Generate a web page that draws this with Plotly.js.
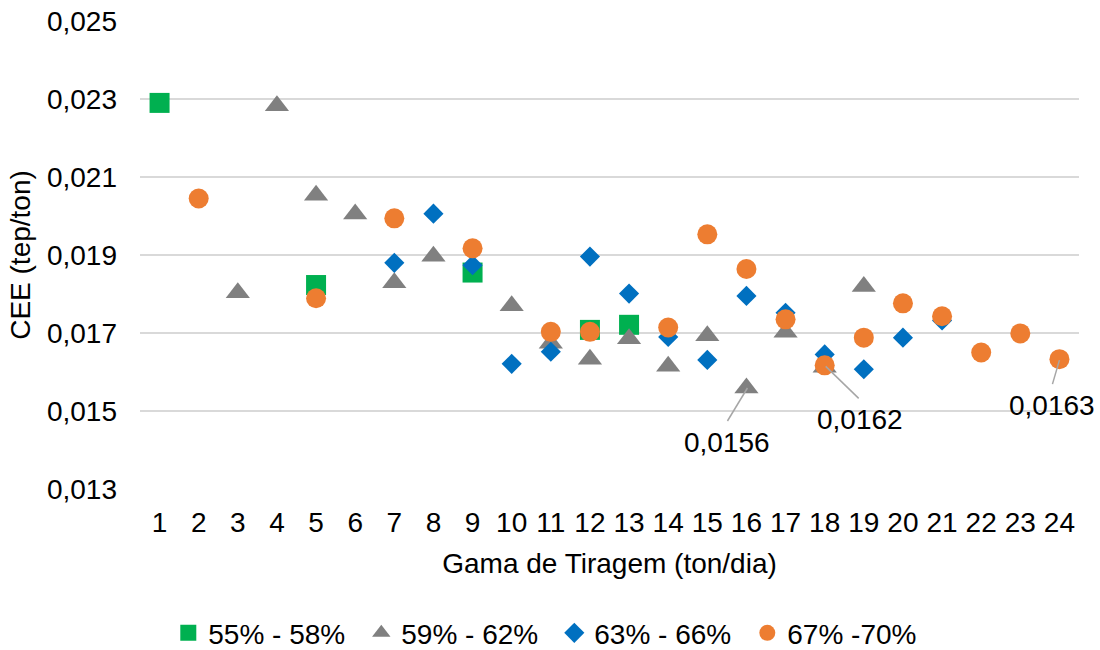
<!DOCTYPE html>
<html>
<head>
<meta charset="utf-8">
<script src="https://cdn.plot.ly/plotly-3.0.1.min.js"></script>
<style>html,body{margin:0;padding:0;background:#fff;}#chart{width:1100px;height:650px;}</style>
</head>
<body>
<div id="chart"></div>
<script>
// ---- data ----
var categories = [1,2,3,4,5,6,7,8,9,10,11,12,13,14,15,16,17,18,19,20,21,22,23,24];
var tickLabels = ["1","2","3","4","5","6","7","8","9","10","11","12","13","14","15","16","17","18","19","20","21","22","23","24"];
var yTicks = [0.013, 0.015, 0.017, 0.019, 0.021, 0.023, 0.025];

var names = ["55% - 58%", "59% - 62%", "63% - 66%", "67% -70%"];

var s1x = [1, 5, 9, 12, 13];
var s1y = [0.0229, 0.01823, 0.01855, 0.01708, 0.01721];

var s2x = [3, 4, 5, 6, 7, 8, 10, 11, 12, 13, 14, 15, 16, 17, 18, 19];
var s2y = [0.01803, 0.02283, 0.02053, 0.02005, 0.01829, 0.01897, 0.0177, 0.01674, 0.01633, 0.01685, 0.01615, 0.01693, 0.01559, 0.01702, 0.01612, 0.01819];

var s3x = [7, 8, 9, 10, 11, 12, 13, 14, 15, 16, 17, 18, 19, 20, 21];
var s3y = [0.0188, 0.02006, 0.01874, 0.01621, 0.01652, 0.01896, 0.01801, 0.0169, 0.01631, 0.01795, 0.01752, 0.01645, 0.01607, 0.01688, 0.01732];

var s4x = [2, 5, 7, 9, 11, 12, 14, 15, 16, 17, 18, 19, 20, 21, 22, 23, 24];
var s4y = [0.02045, 0.01789, 0.01994, 0.01917, 0.01703, 0.01703, 0.01714, 0.01953, 0.01864, 0.01735, 0.01617, 0.01688, 0.01776, 0.01743, 0.0165, 0.01699, 0.01633];

// data labels
var labelX = [16, 18, 24];
var labelY = [s2y[s2x.indexOf(16)], s4y[s4x.indexOf(18)], s4y[s4x.indexOf(24)]];
var labelText = ["0,0156", "0,0162", "0,0163"];

// ---- styling ----
var FONT = "Liberation Sans, Arial, sans-serif";
var FS = 28;
var colors = ["#00B050", "#808080", "#0070C0", "#ED7D31"];
var symbols = ["square", "triangle-up", "diamond", "circle"];
var sizes = [20, 21, 15.5, 20];
var xs = [s1x, s2x, s3x, s4x];
var ys = [s1y, s2y, s3y, s4y];

var traces = names.map(function (n, i) {
  return {
    type: "scatter", mode: "markers", name: n,
    x: xs[i], y: ys[i],
    marker: {symbol: symbols[i], size: sizes[i], color: colors[i], line: {width: 0}},
    cliponaxis: false
  };
});

// pixel offsets of label text centre and leader line ends relative to the point
var labelOffsets = [
  {tx: -19, ty: 55, l0: [1, 0], l1: [-19, 33]},
  {tx: 35, ty: 54, l0: [1, 1], l1: [34, 33]},
  {tx: -7, ty: 46, l0: [0, 1], l1: [-7, 25]}
];

var annotations = [], shapes = [];
labelX.forEach(function (x, i) {
  var o = labelOffsets[i];
  annotations.push({
    x: x, y: labelY[i], xref: "x", yref: "y", text: labelText[i], showarrow: false,
    xshift: o.tx, yshift: -o.ty, xanchor: "center", yanchor: "middle",
    font: {family: FONT, size: FS, color: "#000"}
  });
  shapes.push({
    type: "line", xref: "x", yref: "y", xsizemode: "pixel", ysizemode: "pixel",
    xanchor: x, yanchor: labelY[i],
    x0: o.l0[0], x1: o.l1[0], y0: -o.l0[1], y1: -o.l1[1],
    line: {color: "#a6a6a6", width: 1.5}
  });
});

var layout = {
  width: 1100, height: 650,
  margin: {l: 140, r: 21, t: 21, b: 161},
  paper_bgcolor: "#fff", plot_bgcolor: "#fff",
  separators: ",.",
  font: {family: FONT, size: FS, color: "#000"},
  showlegend: true,
  legend: {
    orientation: "h", xref: "container", yref: "container",
    x: 0.153, xanchor: "left", y: 0.026, yanchor: "middle",
    entrywidth: 148, entrywidthmode: "pixels",
    font: {family: FONT, size: FS, color: "#000"},
    itemclick: false, traceorder: "normal"
  },
  xaxis: {
    range: [0.5, 24.5], tickmode: "array", tickvals: categories, ticktext: tickLabels,
    showgrid: false, zeroline: false, showline: false, ticks: "",
    ticklabelstandoff: 14,
    tickfont: {family: FONT, size: FS, color: "#000"},
    title: {text: "Gama de Tiragem (ton/dia)", font: {family: FONT, size: FS, color: "#000"}, standoff: 16},
    automargin: false
  },
  yaxis: {
    range: [0.013, 0.025], tickmode: "array", tickvals: yTicks, tickformat: ".3f",
    showgrid: true, gridcolor: "#d9d9d9", gridwidth: 1.5, zeroline: false, showline: false, ticks: "",
    ticklabelstandoff: 22,
    tickfont: {family: FONT, size: FS, color: "#000"},
    title: {text: "CEE (tep/ton)", font: {family: FONT, size: FS, color: "#000"}, standoff: 8},
    automargin: false
  },
  annotations: annotations,
  shapes: shapes
};

Plotly.newPlot("chart", traces, layout, {staticPlot: true, displayModeBar: false});
</script>
</body>
</html>
